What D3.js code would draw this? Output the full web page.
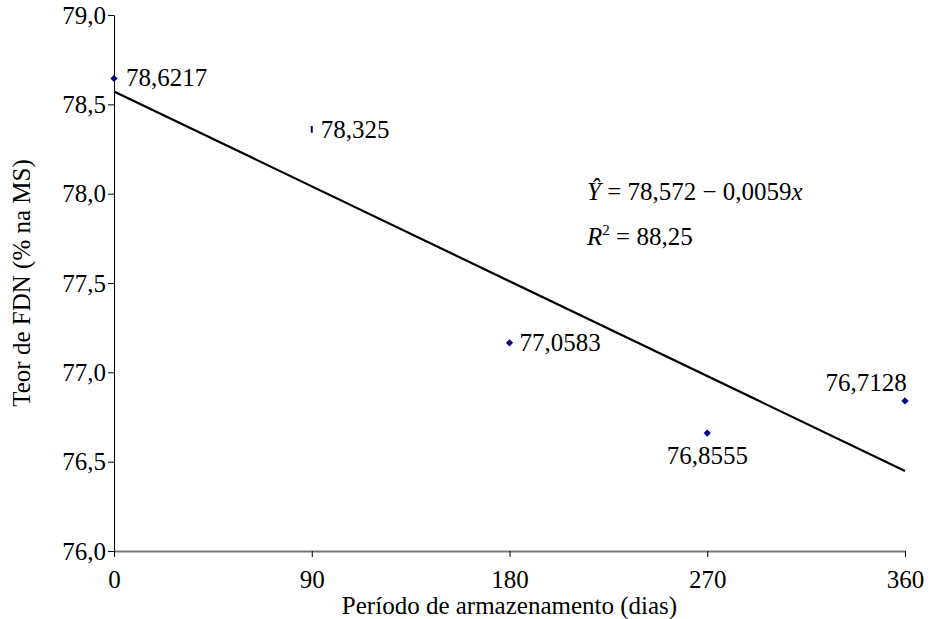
<!DOCTYPE html>
<html>
<head>
<meta charset="utf-8">
<script src="https://cdn.jsdelivr.net/npm/d3@7"></script>
<style>
  body { margin: 0; background: #fff; }
  svg { display: block; font-family: "Liberation Serif", "Times New Roman", serif; }
</style>
</head>
<body>
<div id="chart"></div>
<script>
// storage period (days) and FDN content as plotted
const days = [0, 90, 180, 270, 360];
const fdn = [78.645, 78.36, 77.165, 76.66, 76.84];
const pointLabels = ['78,6217', '78,325', '77,0583', '76,8555', '76,7128'];
const xTicks = [0, 90, 180, 270, 360];
const yTicks = [76.0, 76.5, 77.0, 77.5, 78.0, 78.5, 79.0];
// regression: Y = 78.572 - 0.0059x
const intercept = 78.572;
const slope = -0.0059;

const width = 937;
const height = 619;
const margin = { top: 15, right: 32, bottom: 68, left: 114 };
const fontSize = '25px';

const svg = d3.select('#chart')
  .append('svg')
  .attr('width', width)
  .attr('height', height);

const xScale = d3.scaleLinear()
  .domain([0, 360])
  .range([margin.left, width - margin.right]);

const yScale = d3.scaleLinear()
  .domain([76, 79])
  .range([height - margin.bottom, margin.top]);

const comma = (d) => d3.format('.1f')(d).replace('.', ',');

// y axis
const yAxis = svg.append('g')
  .attr('transform', `translate(${margin.left},0)`)
  .call(d3.axisLeft(yScale).tickValues(yTicks).tickFormat(comma).tickSize(6).tickSizeOuter(0));
yAxis.selectAll('text')
  .attr('x', -8)
  .style('font-size', fontSize)
  .style('font-family', '"Liberation Serif", serif')
  .attr('fill', '#000');

// x axis
const xAxis = svg.append('g')
  .attr('transform', `translate(0,${yScale(76)})`)
  .call(d3.axisBottom(xScale).tickValues(xTicks).tickFormat(d3.format('d')).tickSize(6).tickSizeOuter(0));
xAxis.selectAll('text')
  .attr('y', 19)
  .attr('dy', '0.71em')
  .style('font-size', fontSize)
  .style('font-family', '"Liberation Serif", serif')
  .attr('fill', '#000');

svg.selectAll('.domain, .tick line').attr('stroke', '#000');
xAxis.select('.domain').attr('stroke', '#777').attr('stroke-width', 2);

// axis titles
svg.append('text')
  .attr('x', xScale(180))
  .attr('y', 614)
  .attr('text-anchor', 'middle')
  .style('font-size', fontSize)
  .text('Período de armazenamento (dias)');

svg.append('text')
  .attr('transform', `translate(30,${yScale(77.5)}) rotate(-90)`)
  .attr('text-anchor', 'middle')
  .style('font-size', fontSize)
  .text('Teor de FDN (% na MS)');

// regression line
svg.append('line')
  .attr('x1', xScale(0))
  .attr('y1', yScale(intercept))
  .attr('x2', xScale(360))
  .attr('y2', yScale(intercept + slope * 360))
  .attr('stroke', '#000')
  .attr('stroke-width', 2.2);

// points
const points = days.map((d, i) => ({ day: d, value: fdn[i], label: pointLabels[i] }));
const marker = d3.symbol().type(d3.symbolSquare).size(26);

svg.append('g')
  .selectAll('path')
  .data(points)
  .join('path')
  .attr('d', marker)
  .attr('transform', (d, i) => `translate(${xScale(d.day)},${yScale(d.value)})` + (i === 1 ? ' scale(0.4,1.3)' : ' rotate(45)'))
  .attr('fill', '#000080');

// point labels (placement as in the original)
const labelPos = [
  { dx: 12, dy: 8, anchor: 'start' },
  { dx: 9, dy: 9, anchor: 'start' },
  { dx: 10, dy: 8, anchor: 'start' },
  { dx: 0, dy: 31, anchor: 'middle' },
  { dx: -39, dy: -10, anchor: 'middle' },
];
svg.append('g')
  .selectAll('text')
  .data(points)
  .join('text')
  .attr('x', (d, i) => xScale(d.day) + labelPos[i].dx)
  .attr('y', (d, i) => yScale(d.value) + labelPos[i].dy)
  .attr('text-anchor', (d, i) => labelPos[i].anchor)
  .style('font-size', fontSize)
  .text((d) => d.label);

// equation
const eq = svg.append('text')
  .attr('x', 587)
  .attr('y', 200)
  .style('font-size', fontSize);
eq.append('tspan').style('font-style', 'italic').text('Ŷ');
eq.append('tspan').text(' = 78,572 − 0,0059');
eq.append('tspan').style('font-style', 'italic').text('x');

const r2 = svg.append('text')
  .attr('x', 587)
  .attr('y', 245)
  .style('font-size', fontSize);
r2.append('tspan').style('font-style', 'italic').text('R');
r2.append('tspan').attr('dy', -10).style('font-size', '15px').text('2');
r2.append('tspan').attr('dy', 10).text(' = 88,25');
</script>
</body>
</html>
